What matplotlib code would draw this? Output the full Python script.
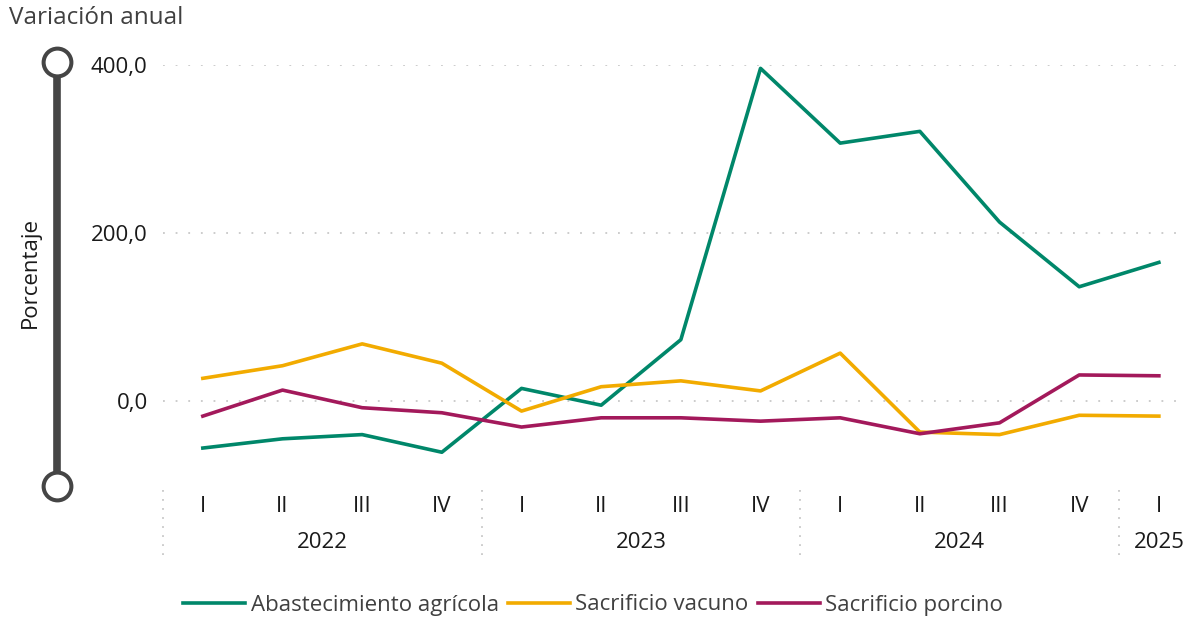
import matplotlib.pyplot as plt
from matplotlib.lines import Line2D
import matplotlib.transforms as mtransforms

plt.rcParams['font.family'] = ['Open Sans', 'DejaVu Sans']

# quarters 2022-I .. 2025-I
quarters = ["I", "II", "III", "IV"] * 3 + ["I"]
years = ["2022", "2023", "2024", "2025"]
year_quarters = [4, 4, 4, 1]

abastecimiento = [-56, -45, -40, -61, 15, -5, 73, 396, 307, 321, 213, 136, 165]
vacuno = [27, 42, 68, 45, -12, 17, 24, 12, 57, -37, -40, -17, -18]
porcino = [-18, 13, -8, -14, -31, -20, -20, -24, -20, -39, -26, 31, 30]

series = [
    ("Abastecimiento agrícola", abastecimiento, "#00876A"),
    ("Sacrificio vacuno", vacuno, "#F2AB00"),
    ("Sacrificio porcino", porcino, "#A3195B"),
]

W, H = 1186, 620
fig = plt.figure(figsize=(W / 100, H / 100), dpi=100)
ax = fig.add_axes([163 / W, 1 - 485 / H, 13 * 79.67 / W, 420 / H])

x = list(range(len(quarters)))
for name, vals, col in series:
    ax.plot(x, vals, color=col, lw=2.6, label=name, solid_joinstyle="round")

ax.set_xlim(-0.5, 12.5)
ax.set_ylim(-100, 400)
ax.set_yticks([0, 200, 400])
ax.set_yticklabels(["0,0", "200,0", "400,0"])
ax.yaxis.grid(True, color="#C8C8C8", linestyle=(0, (1, 6)), lw=1.3)
ax.set_axisbelow(True)
for s in ax.spines.values():
    s.set_visible(False)
ax.tick_params(axis="y", length=0, pad=11, labelsize=16, labelcolor="#1a1a1a")
ax.set_xticks(x)
ax.set_xticklabels(quarters)
ax.tick_params(axis="x", length=0, pad=8, labelsize=16, labelcolor="#1a1a1a")

# year labels and dotted separators under the quarter labels
trans = mtransforms.blended_transform_factory(ax.transData, ax.transAxes)
start = 0
for yr, n in zip(years, year_quarters):
    ax.text(start + (n - 1) / 2, -0.138, yr, transform=trans, ha="center",
            va="center", fontsize=16, color="#1a1a1a")
    ax.plot([start - 0.5, start - 0.5], [-0.012, -0.183], transform=trans,
            color="#C8C8C8", linestyle=(0, (1, 4)), lw=1.3, clip_on=False)
    start += n

# slider-like bar on the left
bx = 57 / W
fig.add_artist(Line2D([bx, bx], [1 - 63 / H, 1 - 485 / H], transform=fig.transFigure,
                      color="#454545", lw=5.5))
fig.add_artist(Line2D([bx, bx], [1 - 62 / H, 1 - 486 / H], transform=fig.transFigure,
                      ls="none", marker="o", markersize=20, markeredgewidth=2.9,
                      markeredgecolor="#454545", markerfacecolor="white"))

fig.text(30 / W, 1 - 273 / H, "Porcentaje", rotation=90, ha="center", va="center",
         fontsize=16, color="#1a1a1a")
fig.text(9 / W, 1 - 18 / H, "Variación anual", ha="left", va="center",
         fontsize=17.5, color="#404040")

fig.legend(loc="center", bbox_to_anchor=(0.5, 1 - 605 / H), ncol=3, frameon=False,
           fontsize=16, handlelength=2.8, handletextpad=0.25, columnspacing=0.4,
           labelcolor="#404040")

fig.savefig("out.png", dpi=100)
